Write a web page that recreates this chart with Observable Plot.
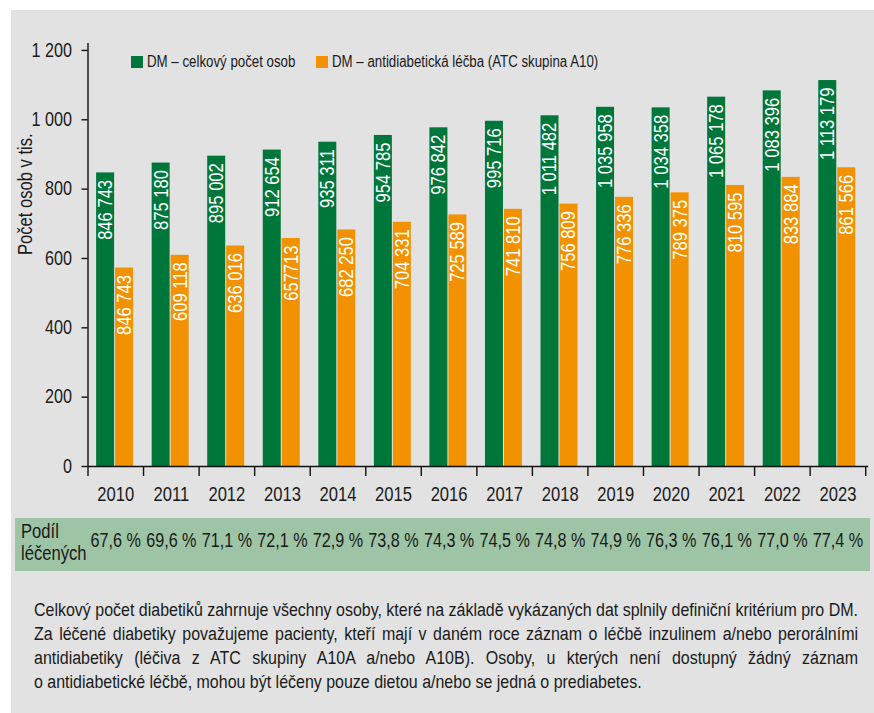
<!DOCTYPE html>
<html>
<head>
<meta charset="utf-8">
<script src="https://cdn.jsdelivr.net/npm/d3@7"></script>
<script src="https://cdn.jsdelivr.net/npm/@observablehq/plot@0.6"></script>
<style>
  body { margin: 0; background: #ffffff; font-family: "Liberation Sans", Arial, sans-serif; color: #1a1a1a; }
  #page { position: relative; width: 874px; height: 713px; overflow: hidden; }
  #bg { position: absolute; left: 11px; top: 10px; right: 0; bottom: 0; background: #e2e2e2; }
  #table { position: absolute; left: 15px; top: 518px; width: 855px; height: 53px; background: #9dc4a5; }
  .narrow { transform-origin: 0 0; transform: scaleX(0.83); white-space: nowrap; }
  #rowlabel { position: absolute; left: 21px; top: 520px; font-size: 20px; line-height: 22px; }
  #chart { position: absolute; left: 0; top: 0; }
  .sw { position: absolute; width: 12px; height: 12px; top: 56px; }
  .lg { position: absolute; top: 52px; font-size: 16px; line-height: 20px; }
  #note { position: absolute; left: 34px; top: 598px; }
  #note .line { height: 24px; line-height: 24px; white-space: normal; }
</style>
</head>
<body>
<div id="page">
  <div id="bg"></div>
  <div id="table"></div>
  <div id="rowlabel" class="narrow">Podíl<br>léčených</div>
  <div id="chart"></div>
  <div id="legend"></div>
  <div id="note"></div>
</div>
<script>
// ---- data ----
const years = [2010, 2011, 2012, 2013, 2014, 2015, 2016, 2017, 2018, 2019, 2020, 2021, 2022, 2023];
const totalPersons = [846743, 875180, 895002, 912654, 935311, 954785, 976842, 995716, 1011482, 1035958, 1034358, 1065178, 1083396, 1113179];
const treatedPersons = [572400, 609118, 636016, 657713, 682250, 704331, 725589, 741810, 756809, 776336, 789375, 810595, 833884, 861566];
const treatedLabels = ["846 743", "609 118", "636 016", "657713", "682 250", "704 331", "725 589", "741 810", "756 809", "776 336", "789 375", "810 595", "833 884", "861 566"];
const sharePct = [67.6, 69.6, 71.1, 72.1, 72.9, 73.8, 74.3, 74.5, 74.8, 74.9, 76.3, 76.1, 77.0, 77.4];
const yTicks = [0, 200, 400, 600, 800, 1000, 1200];
const seriesNames = ["DM – celkový počet osob", "DM – antidiabetická léčba (ATC skupina A10)"];
const seriesColors = ["#00773a", "#f29200"];
const yLabel = "Počet osob v tis.";
const noteLines = [
  "Celkový počet diabetiků zahrnuje všechny osoby, které na základě vykázaných dat splnily definiční kritérium pro DM.",
  "Za léčené diabetiky považujeme pacienty, kteří mají v daném roce záznam o léčbě inzulinem a/nebo perorálními",
  "antidiabetiky (léčiva z ATC skupiny A10A a/nebo A10B). Osoby, u kterých není dostupný žádný záznam",
  "o antidiabetické léčbě, mohou být léčeny pouze dietou a/nebo se jedná o prediabetes."
];

// ---- helpers ----
const SX = 0.83; // horizontal condensing of the sans font
const FONT = "'Liberation Sans', Arial, sans-serif";
const spaced = (n) => String(Math.round(n)).replace(/\B(?=(\d{3})+(?!\d))/g, " ");
const slot = [[0.155, 0.479], [0.497, 0.821]]; // position of each series within a year band

const rows = [];
years.forEach((yr, i) => {
  rows.push({i, year: yr, s: 0, series: seriesNames[0], value: totalPersons[i] / 1000, label: spaced(totalPersons[i])});
  rows.push({i, year: yr, s: 1, series: seriesNames[1], value: treatedPersons[i] / 1000, label: treatedLabels[i]});
});

const W = 874, H = 575;
const chart = Plot.plot({
  width: W,
  height: H,
  marginLeft: 87.5,
  marginRight: 8.8,
  marginTop: 43,
  marginBottom: H - 466,
  style: { background: "transparent", fontFamily: FONT, fontSize: "19px", color: "#1a1a1a" },
  x: { type: "linear", domain: [0, years.length], axis: null },
  y: { domain: [0, 1220], axis: null },
  color: { domain: seriesNames, range: seriesColors },
  marks: [
    Plot.rectY(rows, {
      x1: d => d.i + slot[d.s][0],
      x2: d => d.i + slot[d.s][1],
      y: "value",
      fill: "series"
    }),
    Plot.text(rows, {
      x: d => d.i + (slot[d.s][0] + slot[d.s][1]) / 2,
      y: "value",
      text: "label",
      rotate: -90,
      textAnchor: "end",
      lineAnchor: "middle",
      dy: 7,
      fill: "white",
      fontSize: 20
    }),
    Plot.ruleX([0], { stroke: "#111", strokeWidth: 1.4 }),
    Plot.ruleY([0], { stroke: "#111", strokeWidth: 1.4, insetRight: -3 }),
    Plot.axisY(yTicks, { tickSize: 6, tickPadding: 10, tickFormat: spaced, label: null, stroke: "#111", strokeWidth: 1.4, fontSize: 19.5, fill: "#1a1a1a" }),
    Plot.axisX(d3.range(years.length + 1), { tickSize: 10, tickFormat: () => "", label: null, stroke: "#111", strokeWidth: 1.4 }),
    Plot.axisX(years.map((y, i) => i + 0.5), { tickSize: 0, tickPadding: 20, tickFormat: v => String(years[Math.floor(v)]), label: null, fontSize: 20, fill: "#1a1a1a" }),
    Plot.text(sharePct, {
      x: (d, i) => i + 0.5,
      frameAnchor: "bottom",
      dy: 80,
      text: d => d.toFixed(1).replace(".", ",") + " %",
      fontSize: 19.5,
      fill: "#1a1a1a"
    }),
    Plot.text([yLabel], { frameAnchor: "left", rotate: -90, dx: -62, fontSize: 20, fill: "#1a1a1a" })
  ]
});

// condense every SVG text along its own writing direction
chart.querySelectorAll("text").forEach(t => {
  const tr = t.getAttribute("transform") || "";
  t.setAttribute("transform", `${tr} scale(${SX},1)`);
});
document.getElementById("chart").appendChild(chart);

// legend
const legend = document.getElementById("legend");
const legendSpots = [[131, 147], [316, 332]];
seriesNames.forEach((name, k) => {
  const sw = document.createElement("div");
  sw.className = "sw";
  sw.style.left = legendSpots[k][0] + "px";
  sw.style.background = seriesColors[k];
  const t = document.createElement("div");
  t.className = "lg narrow";
  t.style.left = legendSpots[k][1] + "px";
  t.textContent = name;
  legend.appendChild(sw);
  legend.appendChild(t);
});

// footnote: condensed, justified lines
const noteWidth = 824;
const ctx = document.createElement("canvas").getContext("2d");
ctx.font = "100px 'Liberation Sans'";
const natural = ctx.measureText(noteLines[0]).width / 100;
const noteSize = noteWidth / (natural * SX);
const note = document.getElementById("note");
noteLines.forEach((line, k) => {
  const d = document.createElement("div");
  d.className = "line narrow";
  d.style.width = (noteWidth / SX) + "px";
  d.style.fontSize = noteSize + "px";
  d.style.textAlign = "justify";
  d.style.textAlignLast = k < noteLines.length - 1 ? "justify" : "left";
  d.textContent = line;
  note.appendChild(d);
});
</script>
</body>
</html>
